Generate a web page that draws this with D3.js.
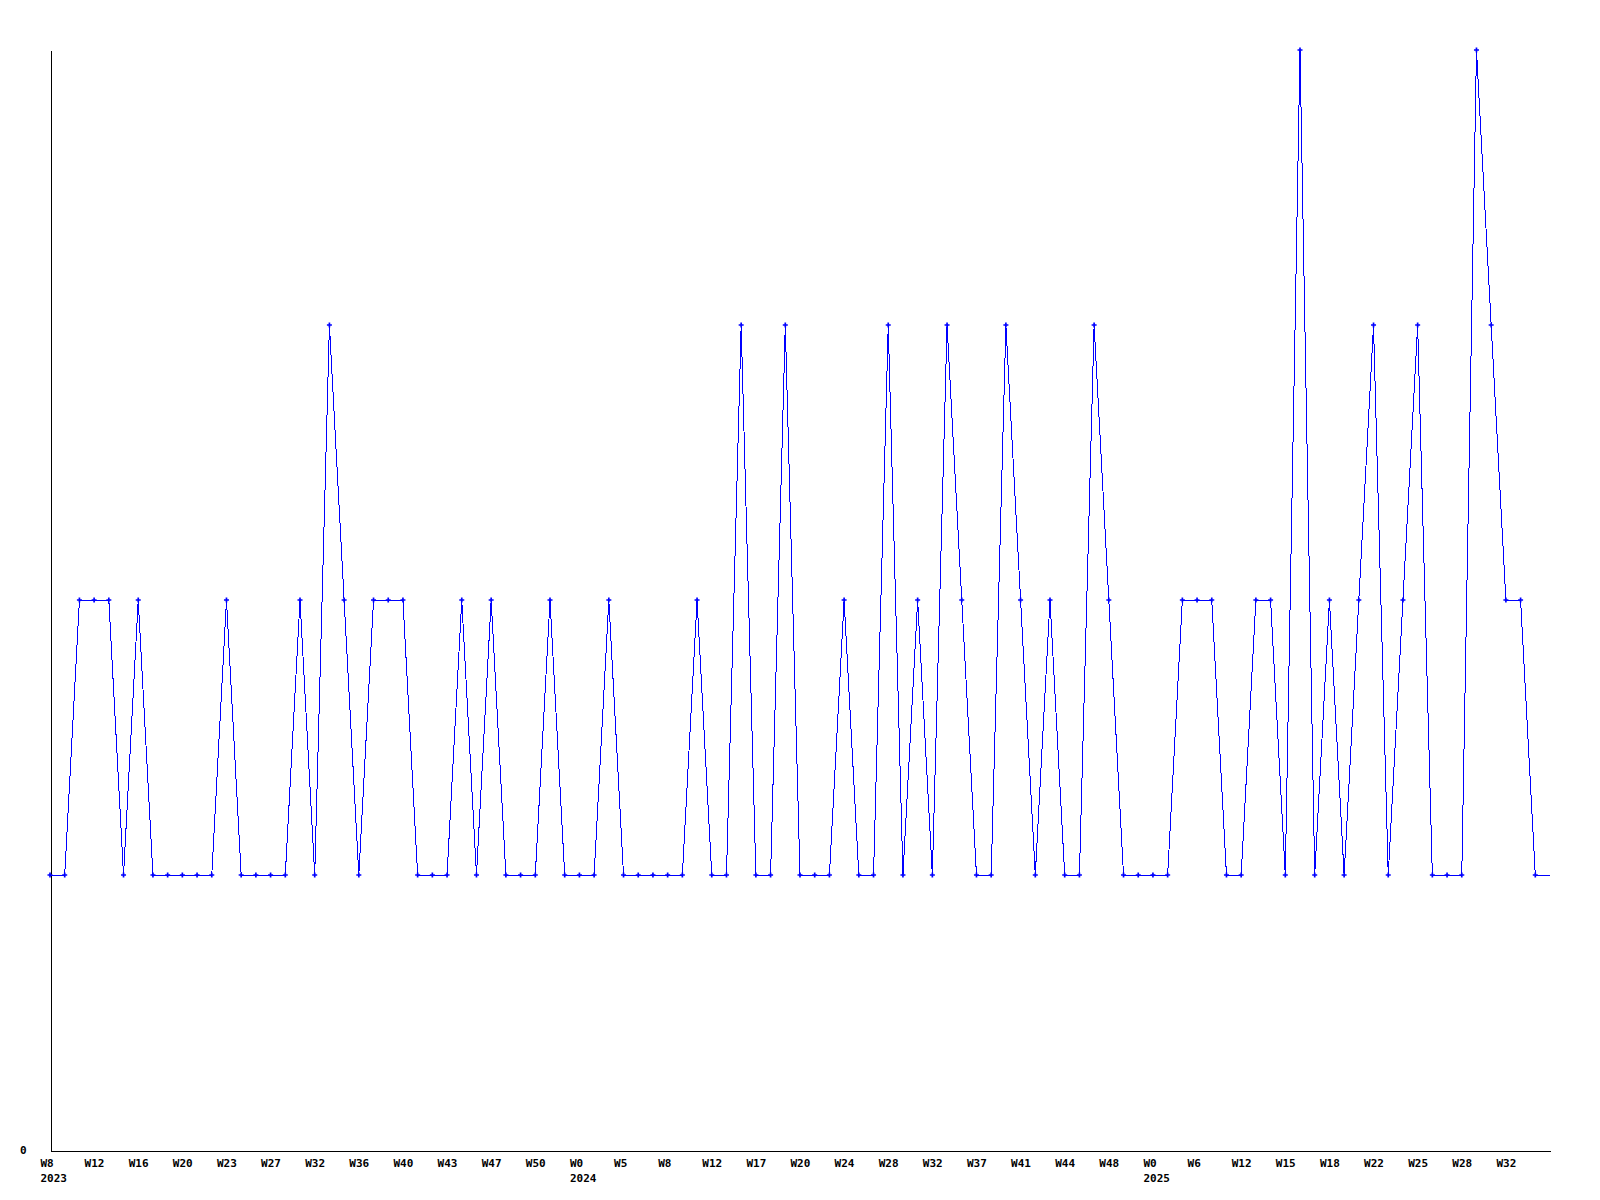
<!DOCTYPE html>
<html>
<head>
<meta charset="utf-8">
<script src="https://cdn.jsdelivr.net/npm/d3@7"></script>
<style>
  html, body { margin: 0; padding: 0; background: #fff; }
  svg { display: block; }
  .axis text { font-family: "DejaVu Sans Mono", monospace; font-weight: bold; font-size: 11px; fill: #000; }
  .axis path { stroke: #000; stroke-width: 1; shape-rendering: crispEdges; }
</style>
</head>
<body>
<svg id="chart" width="1600" height="1200"></svg>
<script>
// ---- data ----
const values = [
  1,1,2,2,2,1,2,1,1,1,
  1,1,2,1,1,1,1,2,1,3,
  2,1,2,2,2,1,1,1,2,1,
  2,1,1,1,2,1,1,1,2,1,
  1,1,1,1,2,1,1,3,1,1,
  3,1,1,1,2,1,1,3,1,2,
  1,3,2,1,1,3,2,1,2,1,
  1,3,2,1,1,1,1,2,2,2,
  1,1,2,2,1,4,1,2,1,2,
  3,1,2,3,1,1,1,4,3,2,
  2,1
];
const tickLabels = ["W8","W12","W16","W20","W23","W27","W32","W36","W40","W43","W47","W50",
  "W0","W5","W8","W12","W17","W20","W24","W28","W32","W37","W41","W44","W48",
  "W0","W6","W12","W15","W18","W22","W25","W28","W32"];
const yearLabels = ["2023","2024","2025"];
const tickEvery = 3;
const yMax = 4;
const yTicks = [0];

// ---- layout ----
const svg = d3.select("#chart");
const M = { left: 50, right: 1550, top: 50, bottom: 1150 };

const x = d3.scaleLinear().domain([0, values.length]).range([M.left, M.right]);
const y = d3.scaleLinear().domain([0, yMax]).range([M.bottom, M.top]);

// year assignment: first tick gets the first year, each "W0" starts the next
let yi = 0;
const tickYear = tickLabels.map((t, k) => {
  if (k === 0) return yearLabels[yi];
  if (t === "W0") { yi++; return yearLabels[yi]; }
  return "";
});
const tickIdx = tickLabels.map((t, k) => k * tickEvery);

// x axis
const xAxis = d3.axisBottom(x)
  .tickValues(tickIdx)
  .tickSize(0)
  .tickSizeOuter(0)
  .tickFormat((d, k) => tickLabels[k]);
const gx = svg.append("g").attr("class", "axis")
  .attr("transform", `translate(0,${M.bottom + 0.5})`)
  .call(xAxis);
gx.selectAll(".tick text")
  .attr("text-anchor", "start")
  .attr("x", -10)
  .attr("y", 16)
  .attr("dy", null)
  .each(function(d, k) {
    const yr = tickYear[k];
    if (yr) {
      d3.select(this.parentNode).append("text")
        .attr("text-anchor", "start")
        .attr("x", -10)
        .attr("y", 31)
        .attr("fill", "#000")
        .text(yr);
    }
  });

// y axis
const yAxis = d3.axisLeft(y).tickValues(yTicks).tickSize(0).tickSizeOuter(0)
  .tickPadding(24).tickFormat(d3.format("d"));
svg.append("g").attr("class", "axis")
  .attr("transform", `translate(${M.left + 0.5},0)`)
  .call(yAxis);

// line (extended to the right edge at last value)
const pts = values.map((v, i) => [i, v]);
pts.push([values.length, values[values.length - 1]]);
const line = d3.line().x(d => x(d[0])).y(d => y(d[1]));
svg.append("path")
  .datum(pts)
  .attr("d", line)
  .attr("fill", "none")
  .attr("stroke", "#0000ff")
  .attr("stroke-width", 1)
  .attr("shape-rendering", "crispEdges");

// markers
const cross = d3.symbol().type(d3.symbolCross).size(14);
svg.append("g").selectAll("path")
  .data(values)
  .join("path")
  .attr("d", cross)
  .attr("transform", (v, i) => `translate(${x(i)},${y(v)})`)
  .attr("fill", "#0000ff");
</script>
</body>
</html>
